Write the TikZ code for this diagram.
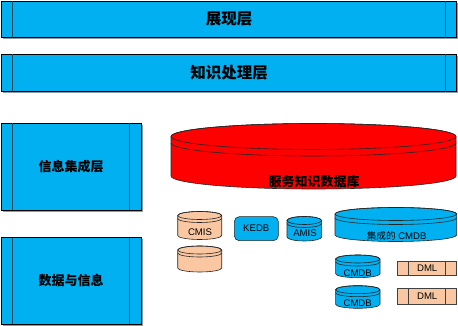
\documentclass[tikz,border=0pt]{standalone}
\usepackage{fontspec}
\setmainfont{Liberation Sans}
\newfontfamily\cjk{Noto Sans CJK SC}
\usetikzlibrary{shadows}

\definecolor{layerblue}{HTML}{00B0F0}
\definecolor{peach}{HTML}{F9C8A2}
\definecolor{divline}{HTML}{1C4A5A}

\tikzset{
  layerbox/.style={draw=black, line width=0.9pt, fill=layerblue, inner sep=0pt, outer sep=0pt,
    drop shadow={shadow xshift=1.6pt, shadow yshift=-1.6pt, fill=black!45, opacity=0.9},
    font=\cjk\bfseries},
  divider/.style={draw=divline, line width=0.9pt},
  drumline/.style={draw=black!85, line width=0.6pt},
  smalltext/.style={font=\fontsize{9.6}{10}\selectfont, inner sep=0pt},
  kedbbox/.style={draw=black!85, line width=0.6pt, fill=layerblue, rounded corners=5pt,
    minimum width=44pt, minimum height=24pt, inner sep=0pt, font=\fontsize{9.6}{10}\selectfont},
  dmlbox/.style={draw=black!75, line width=0.6pt, fill=peach, minimum width=59pt,
    inner sep=0pt, font=\fontsize{9.6}{10}\selectfont}
}

% disk shape with a rim line below the top face
% #1 fill, #2 centre x, #3 top-face centre y, #4 bottom-face centre y, #5 rx, #6 ry, #7 rim offset
\newcommand{\drum}[7]{%
  \filldraw[fill=#1, drumline] ({#2-#5},#3) -- ({#2-#5},#4)
     arc[start angle=180, end angle=360, x radius=#5, y radius=#6]
     -- ({#2+#5},#3)
     arc[start angle=0, end angle=180, x radius=#5, y radius=#6] -- cycle;
  \draw[drumline] (#2,#3) ellipse[x radius=#5, y radius=#6];
  \draw[drumline] ({#2-#5},{#3-#7})
     arc[start angle=180, end angle=360, x radius=#5, y radius=#6];
}

\begin{document}
\begin{tikzpicture}[x=1pt, y=1pt]
\useasboundingbox (0,0) rectangle (458,326);

% layer bars
\node[layerbox, minimum width=455.4pt, minimum height=36.4pt, font=\cjk\bfseries\fontsize{15.5}{16}\selectfont]
  (present) at (229,306.5) {展现层};
\node[layerbox, minimum width=455.4pt, minimum height=37.4pt, font=\cjk\bfseries\fontsize{15.5}{16}\selectfont]
  (knowledge) at (229,253) {知识处理层};
\node[layerbox, minimum width=139.7pt, minimum height=86.7pt, font=\cjk\bfseries\fontsize{13}{14}\selectfont]
  (integration) at (71.15,159.35) {信息集成层};
\node[layerbox, minimum width=139.7pt, minimum height=86.3pt, font=\cjk\bfseries\fontsize{13}{14}\selectfont]
  (data) at (71.15,45.15) {数据与信息};

\foreach \n in {present, knowledge, integration, data} {
  \draw[divider] ([xshift=11.3pt]\n.north west) -- ([xshift=11.3pt]\n.south west);
  \draw[divider] ([xshift=-11.3pt]\n.north east) -- ([xshift=-11.3pt]\n.south east);
}

% service knowledge base
\drum{red}{313.5}{189.5}{150}{142.5}{13}{6.5}
\node[inner sep=0pt, font=\cjk\bfseries\fontsize{13}{14}\selectfont] (skdb) at (314,144.3) {服务知识数据库};

% sources
\drum{peach}{199.7}{110.5}{90.5}{22}{4}{3}
\node[smalltext] (cmis) at (200,93.7) {CMIS};
\drum{peach}{199.7}{76}{58}{22}{4}{3}

\node[kedbbox] (kedb) at (256.3,97.3) {KEDB};

\drum{layerblue}{304.3}{105.5}{89}{17.3}{4}{3}
\node[smalltext] (amis) at (305,92.7) {AMIS};

\drum{layerblue}{395.8}{112}{91}{60.8}{6.5}{4}
\node[smalltext] (icmdb) at (396.7,90.3) {{\cjk 集成的} CMDB};

\drum{layerblue}{357.8}{67}{52.3}{22.2}{4}{3}
\node[smalltext] (cmdba) at (357.7,53.3) {CMDB};
\drum{layerblue}{357.8}{36.3}{21.7}{22.2}{4}{3}
\node[smalltext] (cmdbb) at (357.7,22.7) {CMDB};

\node[dmlbox, minimum height=14.7pt] (dmla) at (427.2,57.65) {DML};
\node[dmlbox, minimum height=15.3pt] (dmlb) at (427.2,29.65) {DML};
\foreach \n in {dmla, dmlb} {
  \draw[draw=black!75, line width=0.6pt] ([xshift=11.3pt]\n.north west) -- ([xshift=11.3pt]\n.south west);
  \draw[draw=black!75, line width=0.6pt] ([xshift=-11.3pt]\n.north east) -- ([xshift=-11.3pt]\n.south east);
}
\end{tikzpicture}
\end{document}
